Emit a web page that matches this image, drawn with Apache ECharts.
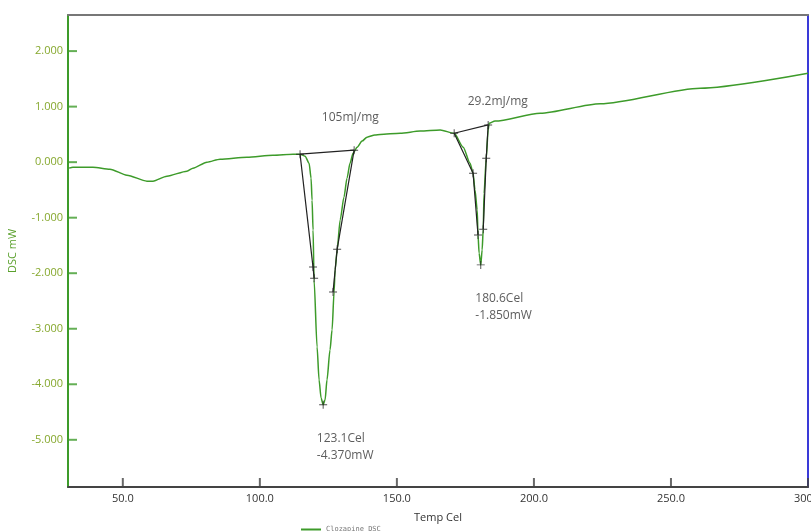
<!DOCTYPE html>
<html>
<head>
<meta charset="utf-8">
<script src="https://cdn.jsdelivr.net/npm/echarts@6/dist/echarts.min.js"></script>
<style>html,body{margin:0;padding:0;background:#fff}#c{width:811px;height:531px}</style>
</head>
<body>
<div id="c"></div>
<script>
// Temperature (Cel) and DSC signal (mW) of the main curve
var temps = [30.4,31.8,39.1,45.3,51.5,58.8,61.0,66.1,73.4,75.6,80.7,85.5,95.3,104.8,112.1,114.67,116.5,117.96,118.69,119.05,119.42,119.78,120.88,121.61,122.34,123.1,123.8,124.5,125.6,126.35,127.08,127.45,128.2,129.3,130.7,131.8,132.9,134.0,135.5,137.3,139.1,142.0,143.9,151.2,158.5,165.8,170.9,174.2,176.7,177.8,178.5,179.3,179.6,180.0,180.6,181.1,181.5,181.8,182.6,183.3,183.65,185.8,202.3,224.2,260.7,300.0];
var dsc = [-0.108,-0.09,-0.09,-0.126,-0.234,-0.342,-0.342,-0.252,-0.162,-0.108,0.0,0.054,0.09,0.126,0.144,0.144,0.108,-0.018,-0.288,-0.684,-1.224,-2.123,-3.329,-3.923,-4.247,-4.37,-4.28,-3.92,-3.38,-3.02,-2.34,-1.94,-1.58,-1.04,-0.63,-0.29,-0.02,0.16,0.27,0.38,0.45,0.49,0.50,0.52,0.56,0.58,0.52,0.27,-0.02,-0.20,-0.50,-0.86,-1.31,-1.64,-1.85,-1.58,-1.21,-0.56,0.07,0.58,0.70,0.74,0.88,1.05,1.33,1.60];

// Analysis construction lines (black)
var peak1Base = [[114.67,0.144],[134.4,0.216]];
var peak1Left = [[114.67,0.144],[119.4,-1.89],[119.8,-2.09]];
var peak1Right = [[134.4,0.216],[128.2,-1.57],[126.7,-2.34]];
var peak2Base = [[170.9,0.52],[183.3,0.67]];
var peak2Left = [[170.9,0.52],[177.8,-0.20],[179.6,-1.31]];
var peak2Right = [[183.3,0.67],[182.6,0.07],[181.5,-1.21]];
// "+" markers
var markers = [[114.67,0.144],[134.4,0.216],[119.4,-1.89],[119.8,-2.09],[128.2,-1.57],[126.7,-2.34],[123.1,-4.37],
               [170.9,0.52],[183.3,0.67],[177.8,-0.20],[179.6,-1.31],[180.6,-1.85],[181.5,-1.21],[182.6,0.07]];
// Text annotations: [T, value, text]
var notes = [[133.0,0.80,'105mJ/mg'],[186.8,1.09,'29.2mJ/mg'],[120.8,-5.13,'123.1Cel\n-4.370mW'],[178.6,-2.61,'180.6Cel\n-1.850mW']];
var notesAlign = ['center','center','left','left'];

var xTicks = [50,100,150,200,250,300];
var yTicks = [-5,-4,-3,-2,-1,0,1,2];
var xMin = 30, xMax = 300, yMin = -5.85, yMax = 2.65;

var green = '#3d9b2a';
var font = 'Open Sans';

function blackLine(d){
  return {type:'line', data:d, symbol:'none', silent:true, z:3,
    lineStyle:{color:'#222', width:1.2}, legendHoverLink:false};
}

var series = [
  {name:'Clozapine_DSC', type:'line', data: temps.map(function(t,i){return [t,dsc[i]];}),
   symbol:'none', smooth:0.25, smoothMonotone:'x', lineStyle:{color:green, width:1.5}, itemStyle:{color:green}, z:2},
  blackLine(peak1Base), blackLine(peak1Left), blackLine(peak1Right),
  blackLine(peak2Base), blackLine(peak2Left), blackLine(peak2Right),
  {type:'scatter', data:markers, symbol:'path://M4.4,0H5.6V4.4H10V5.6H5.6V10H4.4V5.6H0V4.4H4.4Z',
   symbolSize:8, itemStyle:{color:'#222'}, z:4, silent:true},
  {type:'scatter', data:notes.map(function(n,i){return {value:[n[0],n[1]], label:{show:true, position:'inside', align:notesAlign[i], formatter:n[2]}};}),
   symbolSize:0, silent:true, z:5,
   label:{show:true, color:'#333', fontSize:12, fontFamily:font, lineHeight:17}},
  // x-axis tick marks (inside, pointing up)
  {type:'scatter', data:xTicks.map(function(v){return [v, yMin];}), silent:true, clip:false, z:6,
   symbol:'rect', symbolSize:[2,9], symbolOffset:[0,-4.5], itemStyle:{color:'#444'}},
  // y-axis tick marks (inside, pointing right)
  {type:'scatter', data:yTicks.map(function(v){return [xMin, v];}), silent:true, clip:false, z:6,
   symbol:'rect', symbolSize:[9,2], symbolOffset:[4.5,0], itemStyle:{color:green}}
];

var chart = echarts.init(document.getElementById('c'), null, {renderer:'canvas'});
chart.setOption({
  animation:false,
  backgroundColor:'#fff',
  grid:{left:68, right:3, top:15, bottom:44, containLabel:false, outerBoundsMode:'none'},
  legend:{data:['Clozapine_DSC'], left:296, top:521, itemWidth:20, itemHeight:2, itemGap:2,
    icon:'rect', textStyle:{fontSize:7, color:'#777', fontFamily:'DejaVu Sans Mono'}},
  xAxis:[{
    type:'value', min:xMin, max:xMax, position:'bottom',
    name:'Temp Cel', nameLocation:'middle', nameGap:25,
    nameTextStyle:{color:'#333', fontSize:11, fontFamily:font},
    axisLine:{show:true, onZero:false, lineStyle:{color:'#444', width:2}},
    axisTick:{show:false},
    axisLabel:{customValues:xTicks, color:'#333', fontSize:11, fontFamily:font, margin:6,
      formatter:function(v){return v.toFixed(1);}},
    splitLine:{show:false}
  },{
    type:'value', min:xMin, max:xMax, position:'top',
    axisLine:{show:true, onZero:false, lineStyle:{color:'#777', width:2}},
    axisTick:{show:false}, axisLabel:{show:false}, splitLine:{show:false}
  }],
  yAxis:[{
    type:'value', min:yMin, max:yMax, position:'left',
    name:'DSC mW', nameLocation:'middle', nameGap:50, nameRotate:90,
    nameTextStyle:{color:'#5aa02c', fontSize:11, fontFamily:font},
    axisLine:{show:true, onZero:false, lineStyle:{color:green, width:2}},
    axisTick:{show:false},
    axisLabel:{customValues:yTicks, color:'#86a82e', fontSize:11, fontFamily:font, margin:5,
      formatter:function(v){return v.toFixed(3);}},
    splitLine:{show:false}
  },{
    type:'value', min:yMin, max:yMax, position:'right',
    axisLine:{show:true, onZero:false, lineStyle:{color:'#3a3ad8', width:2}},
    axisTick:{show:false}, axisLabel:{show:false}, splitLine:{show:false}
  }],
  series:series
});
</script>
</body>
</html>
